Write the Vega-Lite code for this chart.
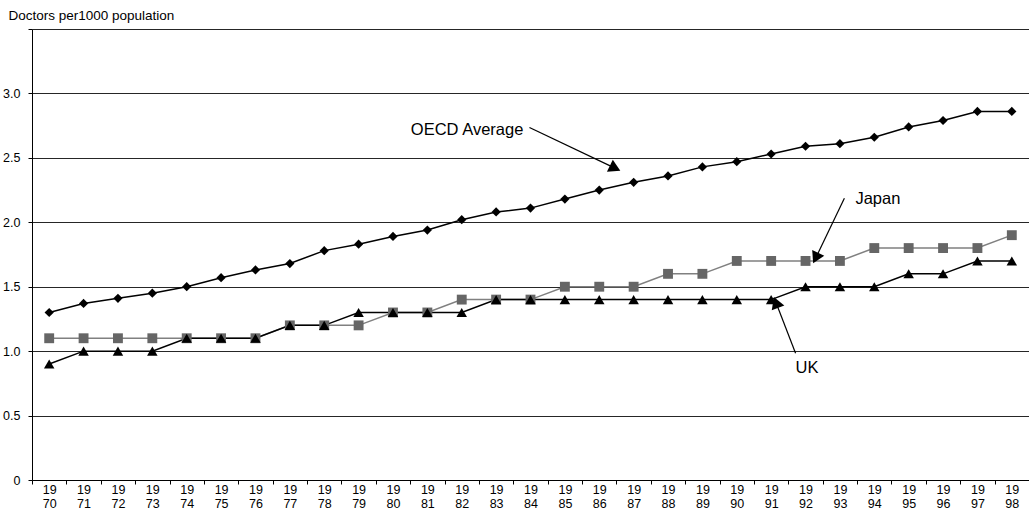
{
  "$schema": "https://vega.github.io/schema/vega-lite/v6.json",
  "width": 997,
  "height": 451,
  "autosize": {"type": "none"},
  "padding": {"left": 32, "top": 29, "right": 0, "bottom": 31},
  "background": "white",
  "config": {"view": {"stroke": null}, "font": "Liberation Sans"},
  "datasets": {
    "series": [
      {"year": 1970, "series": "OECD Average", "value": 1.30},
      {"year": 1971, "series": "OECD Average", "value": 1.37},
      {"year": 1972, "series": "OECD Average", "value": 1.41},
      {"year": 1973, "series": "OECD Average", "value": 1.45},
      {"year": 1974, "series": "OECD Average", "value": 1.50},
      {"year": 1975, "series": "OECD Average", "value": 1.57},
      {"year": 1976, "series": "OECD Average", "value": 1.63},
      {"year": 1977, "series": "OECD Average", "value": 1.68},
      {"year": 1978, "series": "OECD Average", "value": 1.78},
      {"year": 1979, "series": "OECD Average", "value": 1.83},
      {"year": 1980, "series": "OECD Average", "value": 1.89},
      {"year": 1981, "series": "OECD Average", "value": 1.94},
      {"year": 1982, "series": "OECD Average", "value": 2.02},
      {"year": 1983, "series": "OECD Average", "value": 2.08},
      {"year": 1984, "series": "OECD Average", "value": 2.11},
      {"year": 1985, "series": "OECD Average", "value": 2.18},
      {"year": 1986, "series": "OECD Average", "value": 2.25},
      {"year": 1987, "series": "OECD Average", "value": 2.31},
      {"year": 1988, "series": "OECD Average", "value": 2.36},
      {"year": 1989, "series": "OECD Average", "value": 2.43},
      {"year": 1990, "series": "OECD Average", "value": 2.47},
      {"year": 1991, "series": "OECD Average", "value": 2.53},
      {"year": 1992, "series": "OECD Average", "value": 2.59},
      {"year": 1993, "series": "OECD Average", "value": 2.61},
      {"year": 1994, "series": "OECD Average", "value": 2.66},
      {"year": 1995, "series": "OECD Average", "value": 2.74},
      {"year": 1996, "series": "OECD Average", "value": 2.79},
      {"year": 1997, "series": "OECD Average", "value": 2.86},
      {"year": 1998, "series": "OECD Average", "value": 2.86},
      {"year": 1970, "series": "Japan", "value": 1.1},
      {"year": 1971, "series": "Japan", "value": 1.1},
      {"year": 1972, "series": "Japan", "value": 1.1},
      {"year": 1973, "series": "Japan", "value": 1.1},
      {"year": 1974, "series": "Japan", "value": 1.1},
      {"year": 1975, "series": "Japan", "value": 1.1},
      {"year": 1976, "series": "Japan", "value": 1.1},
      {"year": 1977, "series": "Japan", "value": 1.2},
      {"year": 1978, "series": "Japan", "value": 1.2},
      {"year": 1979, "series": "Japan", "value": 1.2},
      {"year": 1980, "series": "Japan", "value": 1.3},
      {"year": 1981, "series": "Japan", "value": 1.3},
      {"year": 1982, "series": "Japan", "value": 1.4},
      {"year": 1983, "series": "Japan", "value": 1.4},
      {"year": 1984, "series": "Japan", "value": 1.4},
      {"year": 1985, "series": "Japan", "value": 1.5},
      {"year": 1986, "series": "Japan", "value": 1.5},
      {"year": 1987, "series": "Japan", "value": 1.5},
      {"year": 1988, "series": "Japan", "value": 1.6},
      {"year": 1989, "series": "Japan", "value": 1.6},
      {"year": 1990, "series": "Japan", "value": 1.7},
      {"year": 1991, "series": "Japan", "value": 1.7},
      {"year": 1992, "series": "Japan", "value": 1.7},
      {"year": 1993, "series": "Japan", "value": 1.7},
      {"year": 1994, "series": "Japan", "value": 1.8},
      {"year": 1995, "series": "Japan", "value": 1.8},
      {"year": 1996, "series": "Japan", "value": 1.8},
      {"year": 1997, "series": "Japan", "value": 1.8},
      {"year": 1998, "series": "Japan", "value": 1.9},
      {"year": 1970, "series": "UK", "value": 0.9},
      {"year": 1971, "series": "UK", "value": 1.0},
      {"year": 1972, "series": "UK", "value": 1.0},
      {"year": 1973, "series": "UK", "value": 1.0},
      {"year": 1974, "series": "UK", "value": 1.1},
      {"year": 1975, "series": "UK", "value": 1.1},
      {"year": 1976, "series": "UK", "value": 1.1},
      {"year": 1977, "series": "UK", "value": 1.2},
      {"year": 1978, "series": "UK", "value": 1.2},
      {"year": 1979, "series": "UK", "value": 1.3},
      {"year": 1980, "series": "UK", "value": 1.3},
      {"year": 1981, "series": "UK", "value": 1.3},
      {"year": 1982, "series": "UK", "value": 1.3},
      {"year": 1983, "series": "UK", "value": 1.4},
      {"year": 1984, "series": "UK", "value": 1.4},
      {"year": 1985, "series": "UK", "value": 1.4},
      {"year": 1986, "series": "UK", "value": 1.4},
      {"year": 1987, "series": "UK", "value": 1.4},
      {"year": 1988, "series": "UK", "value": 1.4},
      {"year": 1989, "series": "UK", "value": 1.4},
      {"year": 1990, "series": "UK", "value": 1.4},
      {"year": 1991, "series": "UK", "value": 1.4},
      {"year": 1992, "series": "UK", "value": 1.5},
      {"year": 1993, "series": "UK", "value": 1.5},
      {"year": 1994, "series": "UK", "value": 1.5},
      {"year": 1995, "series": "UK", "value": 1.6},
      {"year": 1996, "series": "UK", "value": 1.6},
      {"year": 1997, "series": "UK", "value": 1.7},
      {"year": 1998, "series": "UK", "value": 1.7}
    ],
    "notes": [
      {"label": "OECD Average", "tx": 1980.52, "ty": 2.713, "x1": 1983.97, "y1": 2.736, "x2": 1986.41, "y2": 2.426, "angle": 116},
      {"label": "Japan", "tx": 1993.45, "ty": 2.178, "x1": 1993.13, "y1": 2.186, "x2": 1992.32, "y2": 1.736, "angle": 206},
      {"label": "UK", "tx": 1991.71, "ty": 0.868, "x1": 1991.71, "y1": 0.984, "x2": 1991.16, "y2": 1.364, "angle": 339}
    ]
  },
  "resolve": {"axis": {"x": "independent"}},
  "layer": [
    {
      "data": {"name": "series"},
      "mark": {"type": "line", "strokeWidth": 1.5},
      "encoding": {
        "x": {
          "field": "year", "type": "quantitative",
          "scale": {"domain": [1969.5, 1998.5], "nice": false, "zero": false},
          "axis": {
            "orient": "bottom",
            "title": null,
            "grid": false,
            "values": [1970, 1971, 1972, 1973, 1974, 1975, 1976, 1977, 1978, 1979, 1980, 1981, 1982, 1983, 1984, 1985, 1986, 1987, 1988, 1989, 1990, 1991, 1992, 1993, 1994, 1995, 1996, 1997, 1998],
            "labelExpr": "['19', slice(toString(datum.value), 2)]",
            "labelOverlap": false,
            "labelFlush": false,
            "labelFontSize": 12.5,
            "labelColor": "#000",
            "labelPadding": 3,
            "labelLineHeight": 14,
            "domainColor": "#000",
            "ticks": false
          }
        },
        "y": {
          "field": "value", "type": "quantitative",
          "scale": {"domain": [0, 3.5], "nice": false},
          "axis": {
            "title": "Doctors per1000 population",
            "titleAngle": 0,
            "titleAlign": "left",
            "titleBaseline": "middle",
            "titleX": -24,
            "titleY": -14,
            "titleFontSize": 13.5,
            "titleFontWeight": "normal",
            "titleColor": "#000",
            "values": [0, 0.5, 1, 1.5, 2, 2.5, 3, 3.5],
            "labelExpr": "datum.value == 0 ? '0' : (datum.value > 3.2 ? '' : format(datum.value, '.1f'))",
            "labelFontSize": 12.5,
            "labelColor": "#000",
            "labelPadding": 8,
            "grid": true,
            "gridColor": "#000",
            "gridWidth": 1,
            "gridOpacity": 0.85,
            "domainColor": "#000",
            "tickColor": "#000",
            "tickSize": 4
          }
        },
        "detail": {"field": "series"},
        "stroke": {
          "field": "series", "type": "nominal",
          "scale": {"domain": ["OECD Average", "Japan", "UK"], "range": ["#000000", "#808080", "#000000"]},
          "legend": null
        }
      }
    },
    {
      "data": {"name": "series"},
      "mark": {"type": "point", "filled": true, "opacity": 1, "strokeWidth": 0},
      "encoding": {
        "x": {
          "field": "year", "type": "quantitative",
          "axis": {
            "orient": "bottom",
            "title": null,
            "grid": false,
            "domain": false,
            "labels": false,
            "values": [1969.5, 1970.5, 1971.5, 1972.5, 1973.5, 1974.5, 1975.5, 1976.5, 1977.5, 1978.5, 1979.5, 1980.5, 1981.5, 1982.5, 1983.5, 1984.5, 1985.5, 1986.5, 1987.5, 1988.5, 1989.5, 1990.5, 1991.5, 1992.5, 1993.5, 1994.5, 1995.5, 1996.5, 1997.5, 1998.5],
            "ticks": true,
            "tickColor": "#000",
            "tickSize": 4
          }
        },
        "y": {"field": "value", "type": "quantitative"},
        "fill": {
          "field": "series", "type": "nominal",
          "scale": {"domain": ["OECD Average", "Japan", "UK"], "range": ["#000000", "#666666", "#000000"]},
          "legend": null
        },
        "shape": {
          "field": "series", "type": "nominal",
          "scale": {"domain": ["OECD Average", "Japan", "UK"], "range": ["diamond", "square", "triangle-up"]},
          "legend": null
        },
        "size": {
          "field": "series", "type": "nominal",
          "scale": {"domain": ["OECD Average", "Japan", "UK"], "range": [85, 110, 100]},
          "legend": null
        }
      }
    },
    {
      "data": {"name": "notes"},
      "mark": {"type": "rule", "color": "#000", "strokeWidth": 1.2},
      "encoding": {
        "x": {"field": "x1", "type": "quantitative", "axis": null},
        "y": {"field": "y1", "type": "quantitative"},
        "x2": {"field": "x2"},
        "y2": {"field": "y2"}
      }
    },
    {
      "data": {"name": "notes"},
      "mark": {"type": "point", "shape": "triangle", "filled": true, "color": "#000", "opacity": 1, "size": 180},
      "encoding": {
        "x": {"field": "x2", "type": "quantitative", "axis": null},
        "y": {"field": "y2", "type": "quantitative"},
        "angle": {"field": "angle", "type": "quantitative", "scale": null}
      }
    },
    {
      "data": {"name": "notes"},
      "mark": {"type": "text", "align": "left", "baseline": "middle", "fontSize": 16.5, "color": "#000"},
      "encoding": {
        "x": {"field": "tx", "type": "quantitative", "axis": null},
        "y": {"field": "ty", "type": "quantitative"},
        "text": {"field": "label"}
      }
    }
  ]
}
